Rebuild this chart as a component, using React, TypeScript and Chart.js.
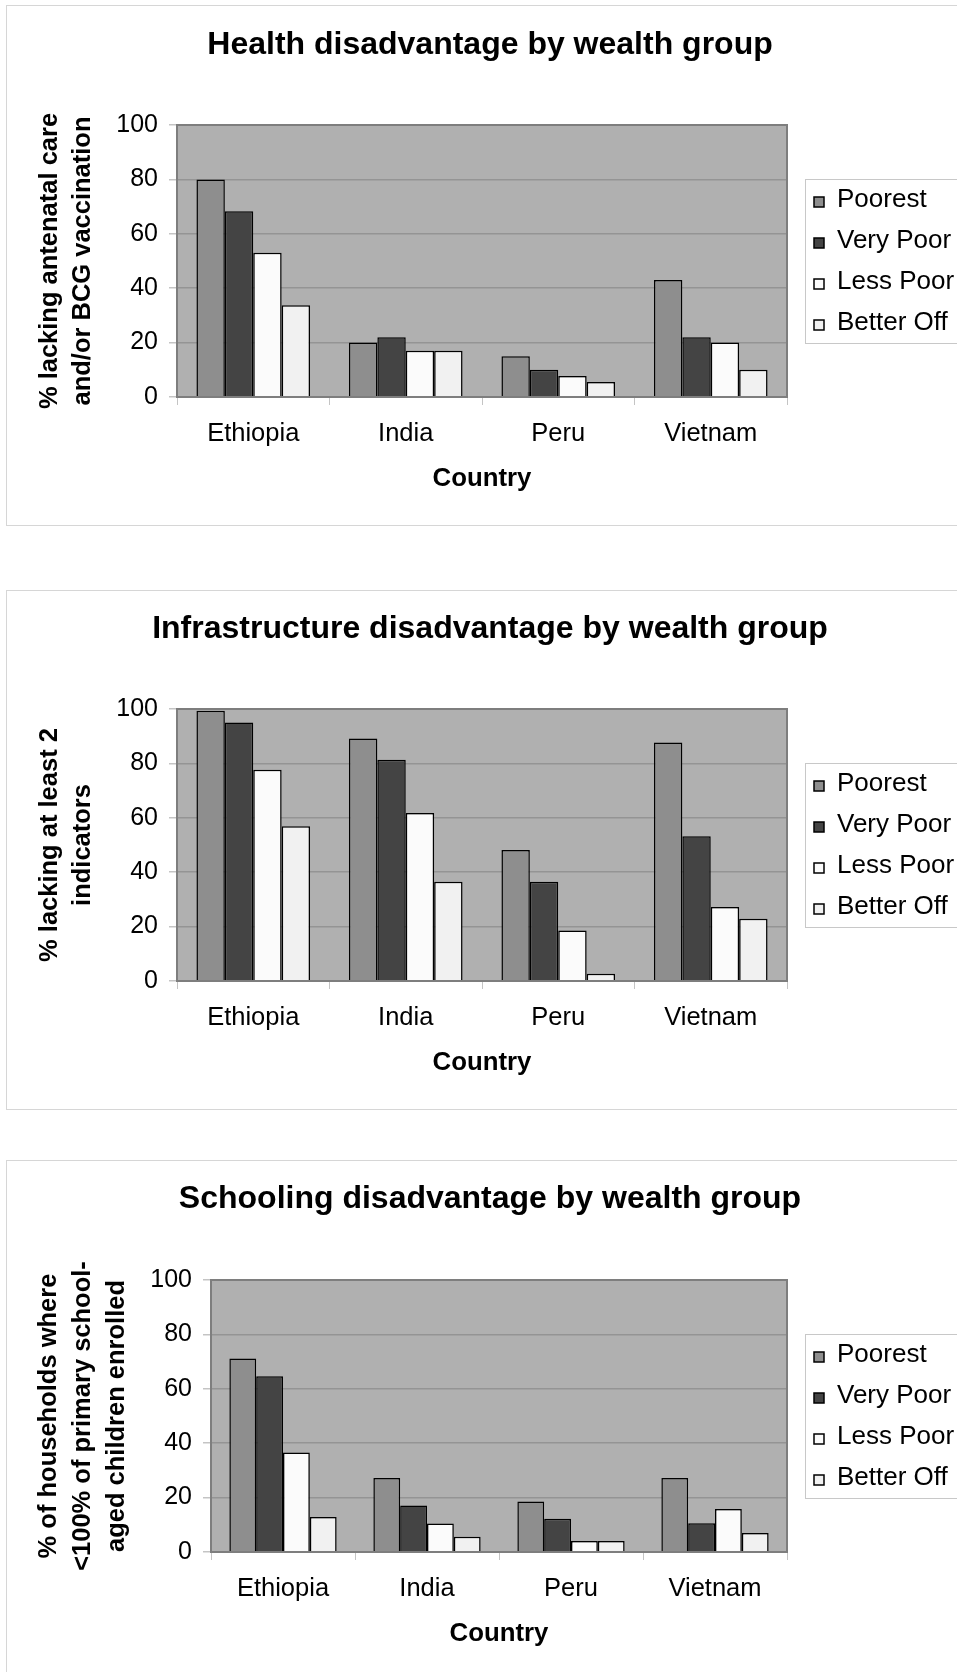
import React, { useEffect, useRef } from "react";
import { Chart, registerables } from "chart.js";

Chart.register(...registerables);

// ---------- data ----------
const countries = ["Ethiopia", "India", "Peru", "Vietnam"];
const groups = ["Poorest", "Very Poor", "Less Poor", "Better Off"];
const groupColors = ["#8e8e8e", "#444444", "#fbfbfb", "#f1f1f1"];
const yTickValues = [0, 20, 40, 60, 80, 100];

const healthPoorest = [80, 20, 15, 43];
const healthVeryPoor = [68.3, 22, 10, 22];
const healthLessPoor = [53, 17, 7.7, 20];
const healthBetterOff = [33.7, 17, 5.5, 10];

const infraPoorest = [99.4, 89.2, 48.2, 87.7];
const infraVeryPoor = [95, 81.3, 36.5, 53.2];
const infraLessPoor = [77.7, 61.8, 18.6, 27.2];
const infraBetterOff = [56.9, 36.5, 2.7, 22.9];

const schoolPoorest = [71.1, 27.2, 18.6, 27.2];
const schoolVeryPoor = [64.6, 17.1, 12.2, 10.6];
const schoolLessPoor = [36.6, 10.5, 4, 15.8];
const schoolBetterOff = [12.9, 5.6, 4, 7];

const FONT = '"Liberation Sans", Arial, Helvetica, sans-serif';
const CANVAS_W = 1000;
const TITLE_CENTER_X = 490;

type PanelLayout = {
  canvasTop: number;
  canvasH: number;
  boxTop: number;
  boxBottom: number;
  titleCenter: number;
  plotTop: number;
  plotBottom: number;
  plotLeft: number;
  plotRight: number;
  yTitleX: number[];
  countryPad: number;
};

type PanelProps = {
  title: string;
  yTitle: string[];
  series: number[][];
  layout: PanelLayout;
};

function Panel({ title, yTitle, series, layout }: PanelProps) {
  const ref = useRef<HTMLCanvasElement | null>(null);

  useEffect(() => {
    if (!ref.current) return;
    const L = layout;
    const titleLH = 32 * 1.2;
    const titlePadTop = L.titleCenter - titleLH / 2;
    const titlePadBottom = L.plotTop - titlePadTop - titleLH;
    const padRight = CANVAS_W - 2 * TITLE_CENTER_X;

    const decor = {
      id: "decor",
      beforeDraw(chart: any) {
        const ctx = chart.ctx;
        const a = chart.chartArea;
        ctx.save();
        ctx.fillStyle = "#ffffff";
        ctx.fillRect(0, 0, chart.width, chart.height);
        ctx.strokeStyle = "#d6d6d6";
        ctx.lineWidth = 1;
        ctx.strokeRect(6.5, L.boxTop + 0.5, 1200, L.boxBottom - L.boxTop);
        ctx.fillStyle = "#b0b0b0";
        ctx.fillRect(a.left, a.top, a.right - a.left, a.bottom - a.top);
        ctx.restore();
      },
      afterDatasetsDraw(chart: any) {
        const ctx = chart.ctx;
        const a = chart.chartArea;
        ctx.save();
        ctx.strokeStyle = "#7e7e7e";
        ctx.lineWidth = 2;
        ctx.strokeRect(a.left, a.top, a.right - a.left, a.bottom - a.top);
        ctx.restore();
      },
      afterDraw(chart: any) {
        const ctx = chart.ctx;
        const a = chart.chartArea;
        const cy = (a.top + a.bottom) / 2;
        ctx.save();
        // y-axis title
        ctx.fillStyle = "#000";
        ctx.font = `bold 25.5px ${FONT}`;
        ctx.textAlign = "center";
        ctx.textBaseline = "middle";
        yTitle.forEach((line, i) => {
          ctx.save();
          ctx.translate(L.yTitleX[i], cy);
          ctx.rotate(-Math.PI / 2);
          ctx.fillText(line, 0, 0);
          ctx.restore();
        });
        // legend
        const lTop = cy - 82;
        ctx.strokeStyle = "#c8c8c8";
        ctx.lineWidth = 1;
        ctx.strokeRect(805.5, lTop + 0.5, 400, 164);
        ctx.font = `26px ${FONT}`;
        ctx.textAlign = "left";
        chart.data.datasets.forEach((ds: any, i: number) => {
          const y = lTop + 21 + i * 41;
          ctx.fillStyle = ds.backgroundColor;
          ctx.fillRect(814, y - 3, 10, 10);
          ctx.strokeStyle = "#000";
          ctx.lineWidth = 1.5;
          ctx.strokeRect(814, y - 3, 10, 10);
          ctx.fillStyle = "#000";
          ctx.fillText(ds.label, 837, y);
        });
        ctx.restore();
      },
    };

    const chart = new Chart(ref.current, {
      type: "bar",
      data: {
        labels: countries,
        datasets: groups.map((g, i) => ({
          label: g,
          data: series[i],
          backgroundColor: groupColors[i],
          borderColor: "#000000",
          borderWidth: 1.5,
          categoryPercentage: 0.745,
          barPercentage: 1,
          yAxisID: "y",
        })),
      },
      options: {
        responsive: false,
        animation: false,
        devicePixelRatio: 1,
        layout: {
          padding: { left: 0, right: padRight, top: 0, bottom: 0 },
        },
        plugins: {
          legend: { display: false },
          tooltip: { enabled: false },
          title: {
            display: true,
            text: title,
            color: "#000",
            font: { family: FONT, size: 32, weight: "bold" },
            padding: { top: titlePadTop, bottom: titlePadBottom },
          },
        },
        scales: {
          x: {
            type: "category",
            grid: {
              offset: true,
              drawOnChartArea: false,
              drawTicks: true,
              tickLength: 8,
              color: "#c4c4c4",
              tickColor: "#c4c4c4",
            },
            border: { display: false },
            ticks: {
              color: "#000",
              font: { family: FONT, size: 25.5 },
              padding: 14,
              maxRotation: 0,
              autoSkip: false,
            },
            title: {
              display: true,
              text: "Country",
              color: "#000",
              font: { family: FONT, size: 25.8, weight: "bold" },
              padding: { top: 0, bottom: L.countryPad },
            },
            afterFit: (s: any) => {
              s.height = L.canvasH - L.plotBottom;
            },
          },
          y: {
            min: yTickValues[0],
            max: yTickValues[yTickValues.length - 1],
            afterBuildTicks: (s: any) => {
              s.ticks = yTickValues.map((v) => ({ value: v }));
            },
            grid: {
              color: "#949494",
              lineWidth: 1.5,
              tickColor: "#c4c4c4",
              tickLength: 8,
              drawTicks: true,
            },
            border: { display: false },
            ticks: {
              color: "#000",
              font: { family: FONT, size: 25 },
              padding: 11,
            },
            afterFit: (s: any) => {
              s.width = L.plotLeft;
            },
          },
          legendSpace: {
            type: "linear",
            position: "right",
            display: true,
            grid: { display: false, drawTicks: false },
            border: { display: false },
            ticks: { display: false },
            afterFit: (s: any) => {
              s.width = CANVAS_W - padRight - L.plotRight;
            },
          },
        },
      },
      plugins: [decor],
    } as any);

    return () => chart.destroy();
  }, [title, yTitle, series, layout]);

  return (
    <canvas
      ref={ref}
      width={CANVAS_W}
      height={layout.canvasH}
      style={{
        position: "absolute",
        left: 0,
        top: layout.canvasTop,
        width: CANVAS_W,
        height: layout.canvasH,
        display: "block",
      }}
    />
  );
}

const layout1: PanelLayout = {
  canvasTop: 0, canvasH: 540, boxTop: 5, boxBottom: 525, titleCenter: 45,
  plotTop: 125, plotBottom: 397, plotLeft: 177, plotRight: 787, yTitleX: [50, 83], countryPad: 46,
};
const layout2: PanelLayout = {
  canvasTop: 560, canvasH: 560, boxTop: 30, boxBottom: 549, titleCenter: 69,
  plotTop: 149, plotBottom: 421, plotLeft: 177, plotRight: 787, yTitleX: [50, 83], countryPad: 42,
};
const layout3: PanelLayout = {
  canvasTop: 1130, canvasH: 542, boxTop: 30, boxBottom: 700, titleCenter: 69,
  plotTop: 150, plotBottom: 422, plotLeft: 211, plotRight: 787, yTitleX: [49, 83, 117], countryPad: 23,
};

const healthSeries = [healthPoorest, healthVeryPoor, healthLessPoor, healthBetterOff];
const infraSeries = [infraPoorest, infraVeryPoor, infraLessPoor, infraBetterOff];
const schoolSeries = [schoolPoorest, schoolVeryPoor, schoolLessPoor, schoolBetterOff];

const yTitle1 = ["% lacking antenatal care", "and/or BCG vaccination"];
const yTitle2 = ["% lacking at least 2", "indicators"];
const yTitle3 = ["% of households where", "<100% of primary school-", "aged children enrolled"];

export default function App() {
  return (
    <div
      style={{
        position: "absolute",
        left: 0,
        top: 0,
        width: 957,
        height: 1672,
        overflow: "hidden",
        background: "#ffffff",
      }}
    >
      <Panel title="Health disadvantage by wealth group" yTitle={yTitle1} series={healthSeries} layout={layout1} />
      <Panel title="Infrastructure disadvantage by wealth group" yTitle={yTitle2} series={infraSeries} layout={layout2} />
      <Panel title="Schooling disadvantage by wealth group" yTitle={yTitle3} series={schoolSeries} layout={layout3} />
    </div>
  );
}
